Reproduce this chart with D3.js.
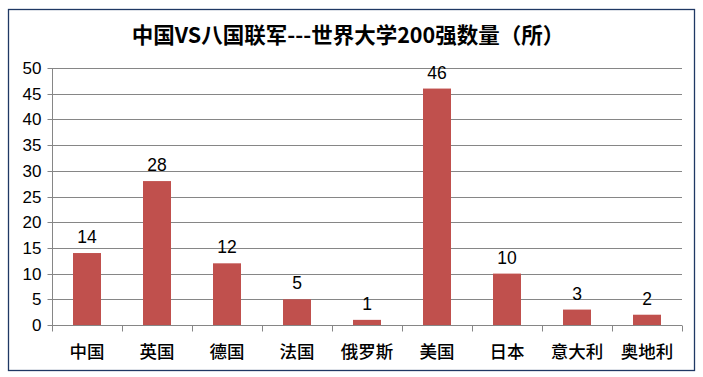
<!DOCTYPE html>
<html><head><meta charset="utf-8">
<script src="https://cdn.jsdelivr.net/npm/d3@7"></script>
<style>body{margin:0;background:#fff}svg{display:block}</style>
</head><body>
<script>
const categories = ["中国","英国","德国","法国","俄罗斯","美国","日本","意大利","奥地利"];
const values = [14,28,12,5,1,46,10,3,2];
const yTicks = [0,5,10,15,20,25,30,35,40,45,50];
const title = "中国VS八国联军---世界大学200强数量（所）";

const W = 703, H = 377;
const svg = d3.select("body").append("svg").attr("width", W).attr("height", H);
svg.append("rect").attr("x", 8.5).attr("y", 9.5).attr("width", 686).attr("height", 361)
  .attr("fill", "#fff").attr("stroke", "#1F3864").attr("stroke-width", 1.3);

const font = "'Noto Sans CJK SC', 'Noto Sans', sans-serif";
const numFont = "'Liberation Sans', Arial, sans-serif";
svg.append("text").attr("x", 348).attr("y", 43).attr("text-anchor", "middle")
  .attr("font-family", font).attr("font-weight", "bold").attr("font-size", 21.5).attr("fill", "#000").text(title);

const x = d3.scaleBand().domain(categories).range([52, 682]).paddingInner(0.6).paddingOuter(0.3);
const xc = d3.scaleBand().domain(categories).range([52, 682]);
const y = d3.scaleLinear().domain([0, 50]).range([325, 68]);

const g = svg.append("g");
g.selectAll("line.grid").data(yTicks.filter(d => d > 0)).join("line")
  .attr("x1", 52).attr("x2", 682).attr("y1", d => Math.round(y(d)) + 0.5).attr("y2", d => Math.round(y(d)) + 0.5)
  .attr("stroke", "#868686").attr("stroke-width", 1);

const yAxis = g.append("g").attr("transform", "translate(52.5,0)")
  .call(d3.axisLeft(y).tickValues(yTicks).tickSize(5).tickPadding(6));
yAxis.select(".domain").attr("stroke", "#868686").attr("d", `M0,${y(50)}V${y(0)}`);
yAxis.selectAll(".tick line").attr("stroke", "#868686");
yAxis.selectAll(".tick").attr("transform", d => `translate(0,${Math.round(y(d)) + 0.5})`);
yAxis.selectAll("text").attr("font-family", numFont).attr("font-size", 17).attr("fill", "#000");

g.selectAll("rect.bar").data(values).join("rect")
  .attr("x", (d, i) => x(categories[i])).attr("width", x.bandwidth())
  .attr("y", d => y(d)).attr("height", d => y(0) - y(d)).attr("fill", "#C0504D");

const xAxis = g.append("g").attr("transform", `translate(0,${Math.round(y(0)) + 0.5})`);
xAxis.append("line").attr("x1", 52).attr("x2", 682).attr("stroke", "#868686");
xAxis.selectAll("line.tk").data(d3.range(categories.length + 1)).join("line")
  .attr("x1", i => Math.round(52 + i * xc.step()) + 0.5).attr("x2", i => Math.round(52 + i * xc.step()) + 0.5)
  .attr("y1", 0).attr("y2", 6).attr("stroke", "#868686");
xAxis.selectAll("text").data(categories).join("text")
  .attr("x", d => xc(d) + xc.bandwidth() / 2).attr("y", 32).attr("text-anchor", "middle")
  .attr("font-family", font).attr("font-weight", 500).attr("font-size", 17.5).attr("fill", "#000").text(d => d);

g.selectAll("text.lbl").data(values).join("text")
  .attr("x", (d, i) => x(categories[i]) + x.bandwidth() / 2).attr("y", d => y(d) - 10)
  .attr("text-anchor", "middle").attr("font-family", numFont)
  .attr("font-size", 17.5).attr("fill", "#000").text(d => d);
</script>
</body></html>
